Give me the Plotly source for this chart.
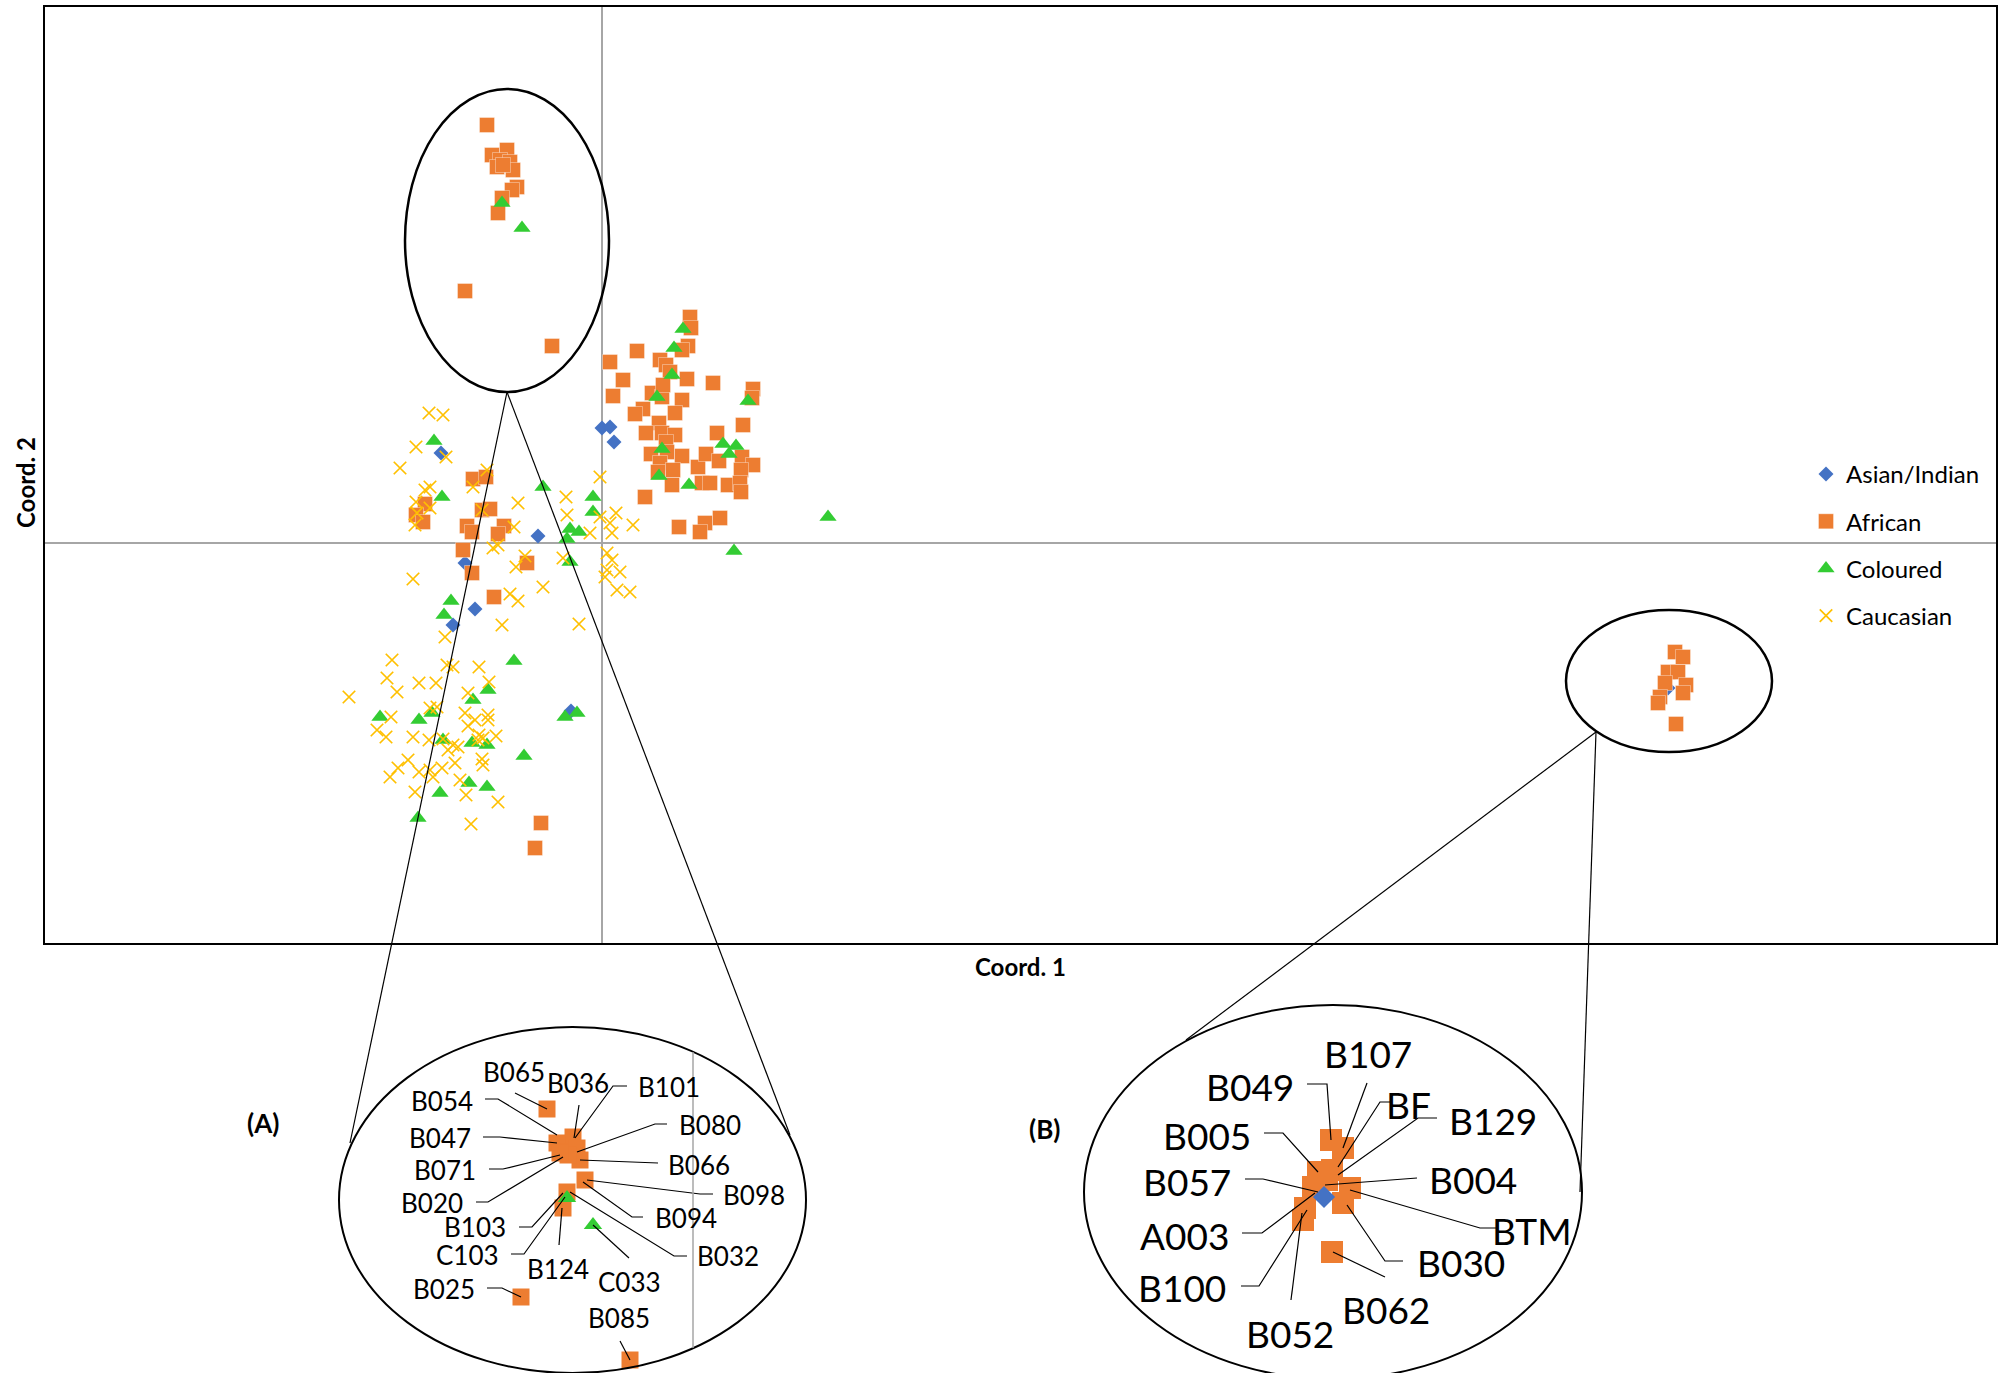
import plotly.graph_objects as go

W, H = 2004, 1373

# ---------------- main scatter data (Coord. 1, Coord. 2) ----------------
asian = [(0.000, 0.115), (0.008, 0.116), (0.012, 0.101), (-0.161, 0.090), (-0.064, 0.007),
         (-0.137, -0.020), (-0.127, -0.066), (-0.149, -0.082), (-0.031, -0.168), (1.066, -0.145)]

african = [(-0.115, 0.418), (-0.110, 0.388), (-0.095, 0.393), (-0.102, 0.383), (-0.092, 0.381),
           (-0.105, 0.376), (-0.089, 0.373), (-0.099, 0.378), (-0.085, 0.356), (-0.090, 0.353),
           (-0.100, 0.345), (-0.104, 0.330), (-0.137, 0.252), (-0.050, 0.197),
           (0.088, 0.226), (0.089, 0.215), (0.086, 0.197), (0.080, 0.193), (0.035, 0.192),
           (0.008, 0.181), (0.058, 0.183), (0.064, 0.178), (0.068, 0.171), (0.021, 0.163),
           (0.085, 0.164), (0.111, 0.160), (0.151, 0.154), (0.150, 0.145), (0.011, 0.147),
           (0.050, 0.150), (0.060, 0.146), (0.080, 0.143), (0.061, 0.158), (0.041, 0.134),
           (0.033, 0.129), (0.073, 0.130), (0.057, 0.120), (0.044, 0.110), (0.060, 0.110),
           (0.073, 0.108), (0.064, 0.101), (0.115, 0.110), (0.141, 0.118), (0.049, 0.089),
           (0.065, 0.091), (0.080, 0.087), (0.058, 0.080), (0.056, 0.071), (0.071, 0.073),
           (0.070, 0.058), (0.096, 0.076), (0.104, 0.089), (0.117, 0.082), (0.140, 0.086),
           (0.151, 0.078), (0.139, 0.073), (0.100, 0.060), (0.108, 0.060), (0.126, 0.058),
           (0.138, 0.060), (0.139, 0.051), (0.043, 0.046), (0.118, 0.025), (0.103, 0.020),
           (0.077, 0.016), (0.098, 0.011),
           (-0.129, 0.064), (-0.116, 0.066), (-0.177, 0.039), (-0.186, 0.028), (-0.179, 0.021),
           (-0.120, 0.033), (-0.112, 0.034), (-0.135, 0.017), (-0.130, 0.011), (-0.098, 0.017),
           (-0.104, 0.009), (-0.139, -0.007), (-0.130, -0.030), (-0.075, -0.020), (-0.108, -0.054),
           (-0.061, -0.280), (-0.067, -0.305),
           (1.073, -0.109), (1.081, -0.114), (1.066, -0.129), (1.076, -0.129), (1.063, -0.140),
           (1.084, -0.142), (1.081, -0.150), (1.058, -0.154), (1.056, -0.160), (1.074, -0.181)]

coloured = [(-0.100, 0.340), (-0.080, 0.315), (0.081, 0.214), (0.072, 0.195), (0.070, 0.168),
            (0.055, 0.146), (0.146, 0.142), (0.060, 0.094), (0.121, 0.099), (0.134, 0.097),
            (0.127, 0.089), (0.057, 0.067), (0.087, 0.058), (0.226, 0.026), (0.132, -0.008),
            (-0.168, 0.102), (-0.160, 0.046), (-0.059, 0.056), (-0.009, 0.046), (-0.009, 0.031),
            (-0.032, 0.014), (-0.023, 0.011), (-0.035, 0.004), (-0.032, -0.019), (-0.151, -0.058),
            (-0.158, -0.072), (-0.088, -0.118), (-0.114, -0.147), (-0.129, -0.157), (-0.222, -0.174),
            (-0.183, -0.177), (-0.170, -0.170), (-0.159, -0.197), (-0.130, -0.200), (-0.115, -0.202),
            (-0.078, -0.213), (-0.037, -0.174), (-0.025, -0.170), (-0.133, -0.240), (-0.115, -0.244),
            (-0.162, -0.250), (-0.184, -0.275)]

caucasian = [(-0.173, 0.130), (-0.159, 0.128), (-0.186, 0.096), (-0.156, 0.086), (-0.202, 0.075),
             (-0.115, 0.073), (-0.172, 0.056), (-0.177, 0.053), (-0.129, 0.056), (-0.186, 0.041),
             (-0.172, 0.035), (-0.185, 0.030), (-0.187, 0.018), (-0.084, 0.040), (-0.120, 0.033),
             (-0.036, 0.046), (-0.035, 0.028), (-0.088, 0.016), (-0.002, 0.066), (-0.002, 0.026),
             (0.014, 0.030), (0.008, 0.020), (0.031, 0.018), (-0.012, 0.010), (0.010, 0.010),
             (-0.109, -0.005), (-0.104, -0.002), (-0.077, -0.013), (-0.086, -0.024), (-0.039, -0.015),
             (0.005, -0.010), (0.010, -0.017), (0.005, -0.027), (0.018, -0.029), (0.003, -0.034),
             (-0.189, -0.036), (-0.059, -0.044), (-0.092, -0.051), (-0.084, -0.058), (0.015, -0.047),
             (0.028, -0.049), (-0.100, -0.082), (-0.023, -0.081), (-0.157, -0.094),
             (-0.210, -0.117), (-0.155, -0.122), (-0.149, -0.124), (-0.123, -0.124), (-0.215, -0.135),
             (-0.183, -0.140), (-0.166, -0.140), (-0.205, -0.149), (-0.113, -0.139), (-0.134, -0.150),
             (-0.253, -0.154), (-0.165, -0.164), (-0.172, -0.165), (-0.211, -0.174), (-0.225, -0.187),
             (-0.216, -0.194), (-0.189, -0.194), (-0.173, -0.197), (-0.137, -0.170), (-0.127, -0.177),
             (-0.114, -0.172), (-0.114, -0.177), (-0.134, -0.183), (-0.123, -0.192), (-0.119, -0.195),
             (-0.106, -0.193), (-0.149, -0.202), (-0.154, -0.207), (-0.144, -0.204), (-0.159, -0.196),
             (-0.124, -0.197), (-0.194, -0.217), (-0.204, -0.225), (-0.212, -0.234), (-0.183, -0.229),
             (-0.172, -0.227), (-0.169, -0.234), (-0.160, -0.225), (-0.147, -0.220), (-0.120, -0.216),
             (-0.119, -0.222), (-0.142, -0.237), (-0.187, -0.249), (-0.136, -0.252), (-0.104, -0.259),
             (-0.131, -0.281)]

# ---------------- inset (A) : enlarged upper cluster ----------------
inset_a_african = [(-0.146, 0.418), (-0.120, 0.390), (-0.136, 0.384), (-0.130, 0.375), (-0.116, 0.379),
                   (-0.113, 0.367), (-0.125, 0.372), (-0.133, 0.374), (-0.108, 0.347), (-0.126, 0.335),
                   (-0.130, 0.319), (-0.172, 0.230), (-0.063, 0.167)]
inset_a_coloured = [(-0.126, 0.329), (-0.100, 0.302)]
inset_a_labels = ["B065", "B036", "B101", "B054", "B080", "B047", "B066", "B071", "B098",
                  "B020", "B094", "B103", "C103", "B032", "B124", "C033", "B025", "B085"]
inset_a_label_pos = [(-0.179, 0.455), (-0.115, 0.444), (-0.024, 0.440), (-0.251, 0.426),
                     (0.017, 0.402), (-0.253, 0.389), (0.006, 0.362), (-0.248, 0.357),
                     (0.061, 0.332), (-0.261, 0.324), (-0.007, 0.309), (-0.218, 0.300),
                     (-0.226, 0.272), (0.035, 0.271), (-0.135, 0.258), (-0.064, 0.245),
                     (-0.249, 0.238), (-0.074, 0.209)]
inset_a_leaders = [
    [(-0.178, 0.434), (-0.146, 0.418)],
    [(-0.114, 0.422), (-0.119, 0.389)],
    [(-0.066, 0.441), (-0.080, 0.441), (-0.118, 0.389)],
    [(-0.208, 0.428), (-0.195, 0.428), (-0.136, 0.392)],
    [(-0.026, 0.403), (-0.038, 0.403), (-0.116, 0.375)],
    [(-0.210, 0.390), (-0.193, 0.390), (-0.136, 0.384)],
    [(-0.035, 0.364), (-0.113, 0.367)],
    [(-0.204, 0.358), (-0.190, 0.358), (-0.133, 0.372)],
    [(0.020, 0.333), (0.007, 0.333), (-0.106, 0.347)],
    [(-0.217, 0.325), (-0.205, 0.325), (-0.130, 0.370)],
    [(-0.050, 0.310), (-0.061, 0.310), (-0.110, 0.345)],
    [(-0.174, 0.300), (-0.161, 0.300), (-0.130, 0.334)],
    [(-0.182, 0.273), (-0.169, 0.273), (-0.128, 0.330)],
    [(-0.006, 0.271), (-0.019, 0.271), (-0.123, 0.335)],
    [(-0.134, 0.282), (-0.131, 0.319)],
    [(-0.064, 0.269), (-0.100, 0.302)],
    [(-0.206, 0.239), (-0.191, 0.239), (-0.172, 0.230)],
    [(-0.073, 0.186), (-0.063, 0.167)],
]

# ---------------- inset (B) : enlarged right cluster ----------------
inset_b_african = [(1.073, -0.088), (1.085, -0.096), (1.060, -0.120), (1.074, -0.118), (1.055, -0.135),
                   (1.092, -0.136), (1.085, -0.151), (1.047, -0.156), (1.045, -0.168), (1.074, -0.200),
                   (1.069, -0.128)]
inset_b_asian = [(1.066, -0.145)]
inset_b_labels = ["B107", "B049", "BF", "B129", "B005", "B004", "B057", "BTM", "A003",
                  "B030", "B100", "B062", "B052"]
inset_b_label_pos = [(1.110, -0.001), (0.992, -0.034), (1.150, -0.052), (1.235, -0.068),
                     (0.949, -0.083), (1.215, -0.127), (0.929, -0.129), (1.274, -0.178),
                     (0.926, -0.183), (1.203, -0.210), (0.924, -0.235), (1.128, -0.257),
                     (1.032, -0.281)]
inset_b_leaders = [
    [(1.109, -0.031), (1.085, -0.096)],
    [(1.049, -0.032), (1.069, -0.032), (1.073, -0.088)],
    [(1.132, -0.050), (1.122, -0.050), (1.080, -0.115)],
    [(1.179, -0.066), (1.160, -0.066), (1.080, -0.123)],
    [(1.006, -0.081), (1.025, -0.081), (1.060, -0.120)],
    [(1.159, -0.126), (1.067, -0.133)],
    [(0.987, -0.127), (1.005, -0.127), (1.060, -0.140)],
    [(1.240, -0.176), (1.222, -0.176), (1.092, -0.138)],
    [(0.984, -0.181), (1.004, -0.181), (1.057, -0.141)],
    [(1.145, -0.209), (1.127, -0.209), (1.089, -0.153)],
    [(0.983, -0.234), (1.001, -0.234), (1.049, -0.158)],
    [(1.127, -0.225), (1.075, -0.200)],
    [(1.033, -0.248), (1.044, -0.161)],
]

# ---------------- styling ----------------
FONT = "Lato, 'Open Sans', sans-serif"
BLUE, ORANGE, GREEN, YELLOW = "#4472C4", "#ED7D31", "#33CC33", "#FFC000"


def px(x, y):
    """pixel position -> paper coordinates (figure has no margins)"""
    return x / W, 1 - y / H


fig = go.Figure()


def add_points(pts, name, marker, xa="x", ya="y", legend=True):
    fig.add_trace(go.Scatter(
        x=[p[0] for p in pts], y=[p[1] for p in pts], mode="markers", name=name,
        marker=marker, xaxis=xa, yaxis=ya, showlegend=legend, legendgroup=name if legend else None,
        hoverinfo="skip"))


add_points(asian, "Asian/Indian", dict(symbol="diamond", size=11.5, color=BLUE))
add_points(african, "African", dict(symbol="square", size=15, color=ORANGE,
                                     line=dict(width=0.6, color="rgba(255,255,255,0.6)")))
add_points(coloured, "Coloured", dict(symbol="triangle-up", size=15, color=GREEN))
add_points(caucasian, "Caucasian", dict(symbol="x-thin", size=12.5, color=YELLOW,
                                        line=dict(width=1.7, color=YELLOW)))

# inset A
add_points(inset_a_african, "A_af", dict(symbol="square", size=17, color=ORANGE), "x2", "y2", False)
add_points(inset_a_coloured, "A_co", dict(symbol="triangle-up", size=16, color=GREEN), "x2", "y2", False)
# inset B
add_points(inset_b_african, "B_af", dict(symbol="square", size=22, color=ORANGE), "x3", "y3", False)
add_points(inset_b_asian, "B_as", dict(symbol="diamond", size=17, color=BLUE), "x3", "y3", False)


def add_leaders(leaders, xa, ya):
    xs, ys = [], []
    for seg in leaders:
        xs += [p[0] for p in seg] + [None]
        ys += [p[1] for p in seg] + [None]
    fig.add_trace(go.Scatter(x=xs, y=ys, mode="lines", line=dict(color="black", width=1.2),
                             xaxis=xa, yaxis=ya, showlegend=False, hoverinfo="skip"))


add_leaders(inset_a_leaders, "x2", "y2")
add_leaders(inset_b_leaders, "x3", "y3")

annotations = []
for t, (x, y) in zip(inset_a_labels, inset_a_label_pos):
    annotations.append(dict(text=t, x=x, y=y, xref="x2", yref="y2", showarrow=False,
                            xanchor="center", yanchor="middle",
                            font=dict(family=FONT, size=26, color="black")))
for t, (x, y) in zip(inset_b_labels, inset_b_label_pos):
    annotations.append(dict(text=t, x=x, y=y, xref="x3", yref="y3", showarrow=False,
                            xanchor="center", yanchor="middle",
                            font=dict(family=FONT, size=37, color="black")))


def paper_text(text, x, y, size, angle=0):
    a, b = px(x, y)
    annotations.append(dict(text=text, x=a, y=b, xref="paper", yref="paper", showarrow=False,
                            xanchor="center", yanchor="middle", textangle=angle,
                            font=dict(family=FONT, size=size, color="black")))


paper_text("<b>Coord. 1</b>", 1020, 966, 24)
paper_text("<b>Coord. 2</b>", 26, 483, 24, -90)
paper_text("<b>(A)</b>", 263, 1123, 26)
paper_text("<b>(B)</b>", 1044, 1129, 26)

shapes = []
# ellipses around clusters in main plot
shapes.append(dict(type="circle", xref="x", yref="y", x0=-0.197, x1=0.007, y0=0.151, y1=0.454,
                   line=dict(color="black", width=2.5)))
shapes.append(dict(type="circle", xref="x", yref="y", x0=0.964, x1=1.170, y0=-0.209, y1=-0.067,
                   line=dict(color="black", width=2.5)))
# inset ellipses
shapes.append(dict(type="circle", xref="x2", yref="y2", x0=-0.354, x1=0.113, y0=0.154, y1=0.500,
                   line=dict(color="black", width=2)))
shapes.append(dict(type="circle", xref="x3", yref="y3", x0=0.826, x1=1.324, y0=-0.327, y1=0.047,
                   line=dict(color="black", width=2)))
# zero line shown inside inset A
shapes.append(dict(type="line", xref="x2", yref="y2", x0=0, x1=0, y0=0.179, y1=0.475,
                   line=dict(color="#A6A6A6", width=1.5)))
# connector lines (paper)
for (p0, p1) in [((507, 392), (350, 1143)), ((507, 392), (790, 1135)),
                 ((1596, 732), (1186, 1040)), ((1596, 732), (1580, 1192))]:
    a0, b0 = px(*p0)
    a1, b1 = px(*p1)
    shapes.append(dict(type="line", xref="paper", yref="paper", x0=a0, y0=b0, x1=a1, y1=b1,
                       line=dict(color="black", width=1.2)))

axis_common = dict(showgrid=False, showticklabels=False, ticks="", zeroline=True,
                   zerolinecolor="#A6A6A6", zerolinewidth=1.5, showline=True,
                   linecolor="black", linewidth=2, mirror=True)
hidden = dict(visible=False, showgrid=False, zeroline=False)

lx, ly = px(1806, 452)
fig.update_layout(
    width=W, height=H, margin=dict(l=0, r=0, t=0, b=0),
    paper_bgcolor="white", plot_bgcolor="white",
    font=dict(family=FONT, color="black"),
    xaxis=dict(domain=[45 / W, 1996 / W], range=[-0.557, 1.394], anchor="y", **axis_common),
    yaxis=dict(domain=[1 - 943 / H, 1 - 7 / H], range=[-0.400, 0.536], anchor="x", **axis_common),
    xaxis2=dict(domain=[329 / W, 816 / W], range=[-0.364, 0.123], anchor="y2", **hidden),
    yaxis2=dict(domain=[0, 1 - 1017 / H], range=[0.154, 0.510], anchor="x2", **hidden),
    xaxis3=dict(domain=[1074 / W, 1592 / W], range=[0.816, 1.334], anchor="y3", **hidden),
    yaxis3=dict(domain=[0, 1 - 995 / H], range=[-0.321, 0.057], anchor="x3", **hidden),
    legend=dict(x=lx, y=ly, xanchor="left", yanchor="top", font=dict(family=FONT, size=24),
                bgcolor="rgba(0,0,0,0)", tracegroupgap=13, itemsizing="trace"),
    annotations=annotations, shapes=shapes,
)

fig.write_html("out.html", config={"displayModeBar": False},
               post_script="document.body.style.margin='0';")
